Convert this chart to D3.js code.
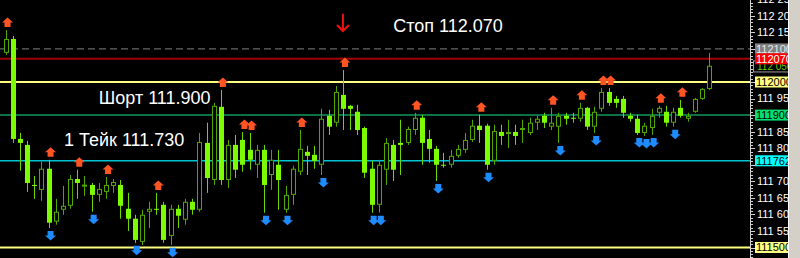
<!DOCTYPE html>
<html lang="ru">
<head>
<meta charset="utf-8">
<title>USDJPY chart</title>
<style>
body { margin:0; background:#000; }
svg { display:block; }
.ax text { font: 11px "Liberation Sans", Arial, sans-serif; fill:#fff; }
.note { font: 18px "Liberation Sans", Arial, sans-serif; fill:#fff; }
</style>
</head>
<body>
<svg width="800" height="258"></svg>
<script src="https://cdnjs.cloudflare.com/ajax/libs/d3/7.8.5/d3.min.js"></script>
<script>
// candles, oldest first
var opens = [112.088,112.130,111.828,111.810,111.689,111.674,111.738,111.578,111.614,111.626,
  111.707,111.689,111.689,111.659,111.668,111.686,111.689,111.617,111.587,111.517,
  111.608,111.617,111.629,111.535,111.617,111.584,111.638,111.614,111.816,111.704,
  111.925,111.704,111.810,111.825,111.795,111.750,111.795,111.719,111.750,111.614,
  111.659,111.729,111.789,111.780,111.750,111.898,111.877,111.961,111.928,111.910,
  111.861,111.738,111.629,111.735,111.810,111.816,111.816,111.855,111.892,111.828,
  111.798,111.750,111.750,111.777,111.795,111.825,111.868,111.868,111.762,111.849,
  111.843,111.849,111.855,111.846,111.877,111.898,111.865,111.865,111.898,111.892,
  111.889,111.922,111.865,111.919,111.970,111.949,111.949,111.898,111.889,111.846,
  111.861,111.907,111.910,111.877,111.922,111.889,111.910,111.949,111.979];
var closes = [112.130,111.828,111.816,111.695,111.688,111.738,111.575,111.608,111.626,111.707,
  111.695,111.690,111.659,111.677,111.689,111.698,111.626,111.587,111.523,111.599,
  111.617,111.616,111.523,111.617,111.596,111.638,111.614,111.819,111.710,111.928,
  111.704,111.810,111.735,111.750,111.765,111.795,111.689,111.765,111.704,111.659,
  111.738,111.798,111.777,111.762,111.889,111.865,111.970,111.919,111.919,111.855,
  111.726,111.629,111.750,111.816,111.735,111.810,111.858,111.892,111.816,111.798,
  111.750,111.749,111.777,111.798,111.825,111.868,111.855,111.750,111.852,111.837,
  111.849,111.837,111.861,111.877,111.889,111.877,111.877,111.898,111.889,111.891,
  111.922,111.865,111.910,111.970,111.937,111.937,111.907,111.889,111.846,111.868,
  111.898,111.922,111.877,111.910,111.898,111.898,111.949,111.979,112.049];
var highs = [112.157,112.139,111.846,111.822,111.716,111.759,111.765,111.647,111.686,111.719,
  111.735,111.716,111.695,111.695,111.713,111.707,111.704,111.665,111.599,111.614,
  111.638,111.665,111.638,111.629,111.629,111.647,111.647,111.846,111.877,111.937,
  111.976,111.825,111.840,111.849,111.846,111.810,111.810,111.795,111.795,111.686,
  111.747,111.855,111.807,111.807,111.919,111.916,111.988,112.036,111.931,111.931,
  111.865,111.762,111.765,111.831,111.825,111.886,111.865,111.907,111.901,111.855,
  111.807,111.786,111.795,111.810,111.846,111.886,111.901,111.874,111.871,111.871,
  111.886,111.871,111.886,111.892,111.898,111.907,111.922,111.907,111.907,111.907,
  111.937,111.925,111.925,111.982,111.982,111.958,111.958,111.907,111.901,111.877,
  111.919,111.928,111.928,111.922,111.946,111.907,111.952,111.982,112.088];
var lows = [112.082,111.816,111.732,111.668,111.647,111.641,111.559,111.569,111.599,111.617,
  111.647,111.656,111.608,111.638,111.647,111.665,111.587,111.550,111.514,111.508,
  111.559,111.599,111.514,111.508,111.559,111.569,111.599,111.608,111.665,111.689,
  111.689,111.680,111.710,111.729,111.735,111.710,111.605,111.674,111.614,111.605,
  111.629,111.719,111.719,111.738,111.719,111.840,111.865,111.855,111.855,111.840,
  111.710,111.605,111.605,111.689,111.701,111.719,111.810,111.840,111.750,111.756,
  111.701,111.741,111.741,111.771,111.786,111.819,111.816,111.735,111.750,111.810,
  111.801,111.810,111.816,111.840,111.855,111.861,111.855,111.816,111.871,111.877,
  111.880,111.855,111.846,111.910,111.928,111.922,111.892,111.880,111.840,111.837,
  111.840,111.892,111.865,111.865,111.892,111.880,111.907,111.946,111.976];

// fractal arrows (candle index)
var upArrows = [0,6,10,14,21,30,33,34,41,47,57,66,76,80,83,84,91,94];
var downArrows = [6,12,18,23,36,39,44,51,52,60,67,77,82,88,89,90,93];

// horizontal levels
var levelPrices = [112.100, 112.070, 112.000, 111.900, 111.762, 111.500];
var levelNames = ["112100", "112070", "112000", "111900", "111762", "111500"];
var bidPrice = 112.050;

// price scale labels
var axisPrices = [112.250, 112.200, 112.150, 112.100, 112.050, 112.000, 111.950, 111.900,
  111.850, 111.800, 111.750, 111.700, 111.650, 111.600, 111.550, 111.500];

// text notes: [text, candle index, price]
var notes = [["Стоп 112.070", 54, 112.151], ["Шорт 111.900", 13, 111.934], ["1 Тейк 111.730", 8.15, 111.807]];
var stopArrow = [47, 112.206, 112.151];

var svg = d3.select("svg"),
    plotRight = 750;

var x = d3.scaleLinear().domain([0, opens.length - 1]).range([5.5, 709.1]);
var y = d3.scaleLinear().domain([111.5, 112.0]).range([247.5, 82]);

svg.append("rect").attr("width", 800).attr("height", 258).attr("fill", "#000");

// level lines (behind candles)
var lineStyle = [
  {c: "#808080", w: 1, d: "7,4"},
  {c: "#a00000", w: 2, d: null},
  {c: "#ffff80", w: 2, d: null},
  {c: "#12985c", w: 1.5, d: null},
  {c: "#00c4d4", w: 1.5, d: null},
  {c: "#ffff80", w: 2, d: null}];

svg.append("g").selectAll("line")
  .data(levelPrices)
  .enter().append("line")
    .attr("x1", 0).attr("x2", plotRight)
    .attr("y1", function(d) { return y(d); })
    .attr("y2", function(d) { return y(d); })
    .attr("stroke", function(d, i) { return lineStyle[i].c; })
    .attr("stroke-width", function(d, i) { return lineStyle[i].w; })
    .attr("stroke-dasharray", function(d, i) { return lineStyle[i].d; });

var bars = d3.range(opens.length).map(function(i) {
  return {i: i, o: opens[i], c: closes[i], h: highs[i], l: lows[i]};
});

var bullCol = "#4fa800", bearCol = "#7cfc00";

var candle = svg.append("g").selectAll("g")
  .data(bars)
  .enter().append("g")
    .attr("transform", function(d) { return "translate(" + Math.round(x(d.i)) + ",0)"; });

candle.append("line")
  .attr("x1", 0.5).attr("x2", 0.5)
  .attr("y1", function(d) { return y(d.h); })
  .attr("y2", function(d) { return y(d.l); })
  .attr("stroke", function(d) { return d.c >= d.o ? bullCol : "#6ad800"; });

candle.append("rect")
  .attr("x", function(d) { return d.c >= d.o ? -1.5 : -2; })
  .attr("width", function(d) { return d.c >= d.o ? 4 : 5; })
  .attr("y", function(d) { return Math.min(y(d.o), y(d.c)) + (d.c >= d.o ? 0.5 : 0); })
  .attr("height", function(d) { return Math.max(1, Math.abs(y(d.o) - y(d.c)) - (d.c >= d.o ? 1 : 0)); })
  .attr("fill", function(d) { return d.c >= d.o ? "#000" : bearCol; })
  .attr("stroke", function(d) { return d.c >= d.o ? bullCol : "none"; });

// arrows
var upPath = "M0,0L5.5,5L3,5L3,9.5L-3,9.5L-3,5L-5.5,5Z";
svg.append("g").selectAll("path")
  .data(upArrows)
  .enter().append("path")
    .attr("d", upPath)
    .attr("fill", "#ff5424")
    .attr("transform", function(d) { return "translate(" + (x(d) + 2) + "," + (y(highs[d]) - 12.5) + ")"; });

svg.append("g").selectAll("path")
  .data(downArrows)
  .enter().append("path")
    .attr("d", upPath)
    .attr("fill", "#1e8cff")
    .attr("transform", function(d) { return "translate(" + (x(d) + 2) + "," + (y(lows[d]) + 12.5) + ") scale(1,-1)"; });

// notes
svg.append("g").selectAll("text")
  .data(notes)
  .enter().append("text")
    .attr("class", "note")
    .attr("x", function(d) { return x(d[1]); })
    .attr("y", function(d) { return y(d[2]); })
    .text(function(d) { return d[0]; });

var ax0 = x(stopArrow[0]);
svg.append("path")
  .attr("d", "M" + ax0 + "," + y(stopArrow[1]) + "V" + (y(stopArrow[2]) - 1)
     + "M" + (ax0 - 6) + "," + (y(stopArrow[2]) - 7) + "L" + ax0 + "," + (y(stopArrow[2]) - 1)
     + "L" + (ax0 + 6) + "," + (y(stopArrow[2]) - 7))
  .attr("fill", "none").attr("stroke", "#f01010").attr("stroke-width", 2);

// price axis
var ax = svg.append("g").attr("class", "ax");
ax.append("line").attr("x1", plotRight + 0.5).attr("x2", plotRight + 0.5)
  .attr("y1", 0).attr("y2", 258).attr("stroke", "#d0d0d0");

var minor = d3.range(111460, 112260, 10).map(function(v) { return v / 1000; });
ax.selectAll("line.tk")
  .data(minor)
  .enter().append("line")
    .attr("class", "tk")
    .attr("x1", plotRight)
    .attr("x2", function(d) { return plotRight + (Math.round(d * 1000) % 50 === 0 ? 5 : 3); })
    .attr("y1", function(d) { return Math.round(y(d)) + 0.5; })
    .attr("y2", function(d) { return Math.round(y(d)) + 0.5; })
    .attr("stroke", "#d0d0d0");

// tick labels hidden by the level / bid labels are skipped
var covered = levelPrices.concat([bidPrice]);
ax.selectAll("text.tl")
  .data(axisPrices.filter(function(p) {
    return !covered.some(function(c) { return Math.abs(y(c) - y(p)) < 9; });
  }))
  .enter().append("text")
    .attr("class", "tl")
    .attr("x", plotRight + 7)
    .attr("y", function(d) { return y(d); })
    .attr("dy", "0.35em")
    .text(function(d) { return d3.format(".3f")(d).replace(".", " "); });

// bid label, partly under the stop label
ax.append("rect").attr("x", 753.5).attr("y", y(bidPrice) - 4.5).attr("width", 40).attr("height", 11)
  .attr("fill", "#000").attr("stroke", "#a0a0a0");
ax.append("text").attr("x", 757).attr("y", y(bidPrice) + 1.5).attr("dy", "0.35em")
  .style("font-size", "10px").style("fill", "#66cc00")
  .text(d3.format(".3f")(bidPrice).replace(".", " "));

var labelBg = ["#808080", "#ff0000", "#ffff80", "#00e070", "#00ffff", "#ffff80"];
var labelFg = ["#e8e8e8", "#ffffff", "#000", "#000", "#000", "#000"];
var lab = ax.selectAll("g.lv")
  .data(levelPrices)
  .enter().append("g").attr("class", "lv");
lab.append("rect")
  .attr("x", 755).attr("width", 40)
  .attr("y", function(d) { return y(d) - 5.5; }).attr("height", 11)
  .attr("fill", function(d, i) { return labelBg[i]; });
lab.append("text")
  .attr("x", 756).attr("y", function(d) { return y(d); }).attr("dy", "0.35em")
  .style("fill", function(d, i) { return labelFg[i]; })
  .text(function(d, i) { return levelNames[i]; });

// window scrollbar
svg.append("rect").attr("x", 788).attr("y", 0).attr("width", 12).attr("height", 258).attr("fill", "#d4d0c8");
svg.append("line").attr("x1", 788.5).attr("x2", 788.5).attr("y1", 0).attr("y2", 258).attr("stroke", "#ffffff");
</script>
</body>
</html>
